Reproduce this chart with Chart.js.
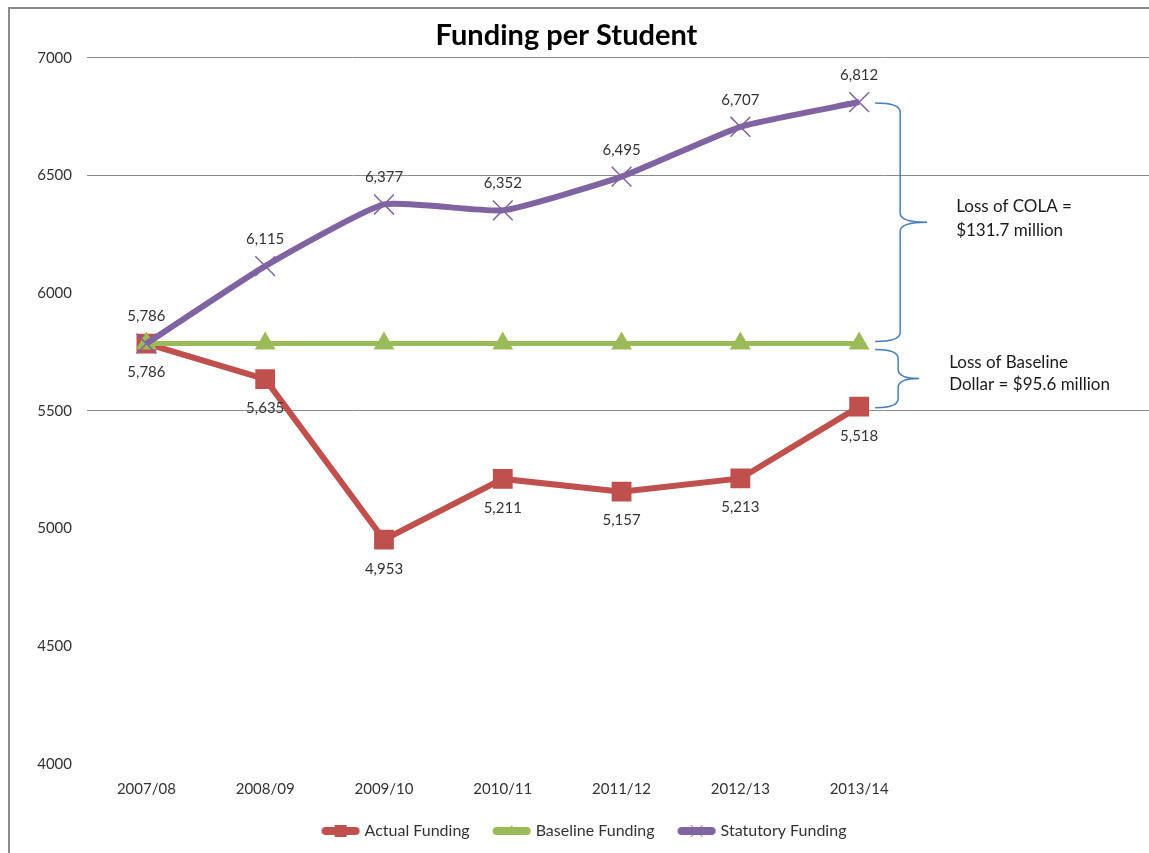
<!DOCTYPE html>
<html>
<head>
<meta charset="utf-8">
<title>Funding per Student</title>
<script src="https://cdn.jsdelivr.net/npm/chart.js@4/dist/chart.umd.min.js"></script>
<style>
  html, body { margin: 0; padding: 0; background: #fff; }
  canvas { display: block; }
</style>
</head>
<body>
<canvas id="fundingChart" width="1149" height="853"></canvas>
<script>
(function () {
  'use strict';

  var years = ['2007/08', '2008/09', '2009/10', '2010/11', '2011/12', '2012/13', '2013/14'];
  var actualFunding = [5786, 5635, 4953, 5211, 5157, 5213, 5518];
  var baselineFunding = [5786, 5786, 5786, 5786, 5786, 5786, 5786];
  var statutoryFunding = [5786, 6115, 6377, 6352, 6495, 6707, 6812];
  var yTicks = [4000, 4500, 5000, 5500, 6000, 6500, 7000];
  var shownGridLines = [5500, 6500, 7000];

  var colaNote = ['Loss of COLA =', '$131.7 million'];
  var baselineNote = ['Loss of Baseline', 'Dollar = $95.6 million'];

  var FONT = 'Lato, "Open Sans", sans-serif';
  var TEXT = '#333333';
  var RED = '#c0504d';
  var GREEN = '#9bbb59';
  var PURPLE = '#8064a2';
  var BRACE = '#4a7ebb';

  function points(values) {
    return values.map(function (v, i) {
      return { x: i, y: v };
    });
  }

  function fmt(v) {
    return v.toLocaleString('en-US');
  }

  // small line-with-marker swatch for the legend
  function legendIcon(color, shape) {
    var c = document.createElement('canvas');
    c.width = 40;
    c.height = 14;
    var g = c.getContext('2d');
    g.strokeStyle = color;
    g.fillStyle = color;
    g.lineCap = 'round';
    g.lineWidth = 8;
    g.beginPath();
    g.moveTo(5, 7);
    g.lineTo(35, 7);
    g.stroke();
    if (shape === 'rect') {
      g.fillRect(14, 1, 12, 12);
    } else if (shape === 'triangle') {
      g.beginPath();
      g.moveTo(20, 1);
      g.lineTo(25, 9);
      g.lineTo(15, 9);
      g.closePath();
      g.fill();
    } else {
      g.lineWidth = 1;
      g.lineCap = 'butt';
      g.beginPath();
      g.moveTo(14, 1); g.lineTo(26, 13);
      g.moveTo(26, 1); g.lineTo(14, 13);
      g.stroke();
    }
    return c;
  }

  // outer frame of the chart box (top and left edges)
  var frame = {
    id: 'frame',
    beforeDraw: function (chart) {
      var ctx = chart.ctx;
      ctx.save();
      ctx.strokeStyle = '#8a8a8a';
      ctx.lineWidth = 2;
      ctx.beginPath();
      ctx.moveTo(9, chart.height);
      ctx.lineTo(9, 8);
      ctx.lineTo(chart.width, 8);
      ctx.stroke();
      ctx.restore();
    },
    afterLayout: function (chart) {
      chart.titleBlock.left -= 13;
      chart.titleBlock.right -= 13;
      chart.legend.left += 12;
    }
  };

  // values above the statutory line and below the actual line
  var valueLabels = {
    id: 'valueLabels',
    afterDatasetsDraw: function (chart) {
      var ctx = chart.ctx;
      ctx.save();
      ctx.font = '15px ' + FONT;
      ctx.fillStyle = TEXT;
      ctx.textAlign = 'center';
      ctx.textBaseline = 'middle';
      [[0, actualFunding, 29], [2, statutoryFunding, -27]].forEach(function (set) {
        var meta = chart.getDatasetMeta(set[0]);
        meta.data.forEach(function (pt, i) {
          ctx.fillText(fmt(set[1][i]), pt.x, pt.y + set[2]);
        });
      });
      ctx.restore();
    }
  };

  function brace(ctx, x, yTop, yBot, depth, tip) {
    var mid = (yTop + yBot) / 2;
    var r = 9;
    ctx.beginPath();
    ctx.moveTo(x, yTop);
    ctx.quadraticCurveTo(x + depth, yTop, x + depth, yTop + r);
    ctx.lineTo(x + depth, mid - r);
    ctx.quadraticCurveTo(x + depth, mid, x + depth + tip, mid);
    ctx.moveTo(x + depth + tip, mid);
    ctx.quadraticCurveTo(x + depth, mid, x + depth, mid + r);
    ctx.lineTo(x + depth, yBot - r);
    ctx.quadraticCurveTo(x + depth, yBot, x, yBot);
    ctx.stroke();
    return mid;
  }

  // braces marking the two gaps at the last year
  var gapBraces = {
    id: 'gapBraces',
    afterDraw: function (chart) {
      var ctx = chart.ctx;
      var xs = chart.scales.x;
      var ys = chart.scales.y;
      var last = years.length - 1;
      var x0 = xs.getPixelForValue(last) + 16;
      var yStat = ys.getPixelForValue(statutoryFunding[last]);
      var yBase = ys.getPixelForValue(baselineFunding[last]);
      var yAct = ys.getPixelForValue(actualFunding[last]);

      ctx.save();
      ctx.strokeStyle = BRACE;
      ctx.lineWidth = 1.5;
      var m1 = brace(ctx, x0, yStat + 1, yBase - 2, 25, 27);
      var m2 = brace(ctx, x0, yBase + 6, yAct + 1, 23, 21);

      ctx.fillStyle = '#1a1a1a';
      ctx.font = '17px ' + FONT;
      ctx.textAlign = 'left';
      ctx.textBaseline = 'middle';
      ctx.fillText(colaNote[0], x0 + 81, m1 - 16);
      ctx.fillText(colaNote[1], x0 + 81, m1 + 8);
      ctx.fillText(baselineNote[0], x0 + 74, m2 - 16);
      ctx.fillText(baselineNote[1], x0 + 74, m2 + 6);
      ctx.restore();
    }
  };

  var icons = [legendIcon(RED, 'rect'), legendIcon(GREEN, 'triangle'), legendIcon(PURPLE, 'cross')];

  new Chart(document.getElementById('fundingChart').getContext('2d'), {
    type: 'line',
    data: {
      datasets: [
        {
          label: 'Actual Funding',
          data: points(actualFunding),
          borderColor: RED,
          backgroundColor: RED,
          borderWidth: 6,
          pointStyle: 'rect',
          pointRadius: 14,
          pointBorderWidth: 0,
          order: 2,
        },
        {
          label: 'Baseline Funding',
          data: points(baselineFunding),
          borderColor: GREEN,
          backgroundColor: GREEN,
          borderWidth: 5,
          pointStyle: 'triangle',
          pointRadius: 12,
          pointBorderWidth: 0,
          order: 1,
        },
        {
          label: 'Statutory Funding',
          data: points(statutoryFunding),
          borderColor: PURPLE,
          backgroundColor: PURPLE,
          borderWidth: 6,
          tension: 0.15,
          pointStyle: 'crossRot',
          pointRadius: 14,
          pointBorderWidth: 1.5,
          order: 0,
        },
      ],
    },
    options: {
      responsive: false,
      animation: false,
      layout: { autoPadding: false, padding: { top: 10, left: 10, right: 0, bottom: 4 } },
      plugins: {
        title: {
          display: true,
          text: 'Funding per Student',
          color: '#000',
          font: { family: FONT, size: 29, weight: 'bold' },
          padding: { top: 8, bottom: 5 },
        },
        legend: {
          position: 'bottom',
          labels: {
            color: TEXT,
            font: { family: FONT, size: 16 },
            usePointStyle: true,
            pointStyleWidth: 32,
            padding: 26,
            sort: function (a, b) {
              return a.datasetIndex - b.datasetIndex;
            },
            generateLabels: function (chart) {
              var items = Chart.defaults.plugins.legend.labels.generateLabels(chart);
              items.forEach(function (it) {
                it.pointStyle = icons[it.datasetIndex];
              });
              return items;
            },
          },
        },
        tooltip: { enabled: false },
      },
      scales: {
        x: {
          type: 'linear',
          min: -0.5,
          max: 8.44,
          grid: { color: 'rgba(0,0,0,0)', drawTicks: true, tickLength: 16 },
          border: { display: false },
          ticks: {
            stepSize: 1,
            includeBounds: false,
            autoSkip: false,
            maxRotation: 0,
            padding: 0,
            color: TEXT,
            font: { family: FONT, size: 15 },
            callback: function (v) {
              return years[v] || '';
            },
          },
          afterFit: function (scale) {
            scale.height = 33;
          },
        },
        y: {
          min: 4000,
          max: 7000,
          grid: {
            drawTicks: false,
            color: function (c) {
              return c.tick && shownGridLines.indexOf(c.tick.value) >= 0 ? '#8c8c8c' : 'rgba(0,0,0,0)';
            },
          },
          border: { display: false },
          afterBuildTicks: function (scale) {
            scale.ticks = yTicks.map(function (v) {
              return { value: v };
            });
          },
          ticks: {
            padding: 15,
            color: TEXT,
            font: { family: FONT, size: 15 },
            callback: function (v) {
              return String(v);
            },
          },
          afterFit: function (scale) {
            scale.width = 77;
          },
        },
      },
    },
    plugins: [frame, valueLabels, gapBraces],
  });
})();
</script>
</body>
</html>
